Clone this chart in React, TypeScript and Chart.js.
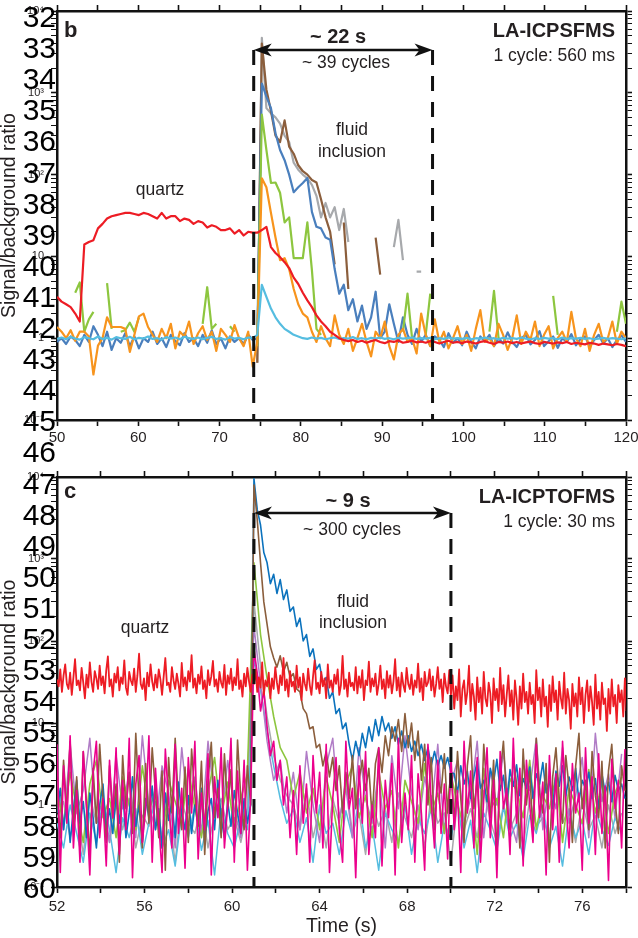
import React, { useEffect, useRef } from 'react';
import { Chart, registerables } from 'chart.js';

Chart.register(...registerables);

const FONT = '"Liberation Sans", Arial, Helvetica, sans-serif';
const INK = '#231f20';

// ---------------- Panel b : LA-ICPSFMS (one value per 0.56 s cycle, from 50 s) ----------------
const B_T0 = 50;
const B_CYCLE = 0.56;

const B_RED = [
  3.2, 2.8, 2.6, 2.4, 2.0, 1.6, 14, 15, 15.8, 22,
  25, 29, 31, 32, 33, 34, 34, 33, 32, 34,
  33, 31, 29, 34, 29, 31, 31, 27, 29, 28,
  25, 27, 26, 22.5, 24, 23, 21, 21, 22, 19,
  21, 18, 20, 19.5, 19.5, 21, 23, 13, 11, 9.8,
  8.5, 7.2, 5.5, 4.6, 3.6, 2.9, 2.4, 1.9, 1.6, 1.4,
  1.2, 1.1, 1.0, 0.95, 0.92, 0.95, 0.9, 0.93, 0.88, 0.92,
  0.95, 0.9, 0.87, 0.92, 0.9, 0.94, 0.88, 0.9, 0.93, 0.89,
  0.91, 0.88, 0.92, 0.9, 0.86, 0.9, 0.93, 0.88, 0.9, 0.87,
  0.91, 0.89, 0.86, 0.9, 0.92, 0.88, 0.85, 0.9, 0.88, 0.91,
  0.87, 0.9, 0.86, 0.89, 0.91, 0.87, 0.85, 0.9, 0.88, 0.86,
  0.89, 0.87, 0.9, 0.85, 0.88, 0.86, 0.84, 0.88, 0.86, 0.83,
  0.86, 0.84, 0.82, 0.85, 0.83, 0.8,
];

const B_CYAN = [
  0.98, 1.02, 0.97, 1.04, 0.99, 0.96, 1.03, 1.0, 0.97, 1.05,
  0.98, 1.01, 0.96, 1.03, 1.0, 0.98, 1.04, 0.97, 1.01, 0.99,
  1.05, 0.98, 1.0, 0.96, 1.03, 0.99, 1.02, 0.97, 1.04, 1.0,
  0.98, 1.02, 0.97, 1.01, 1.04, 0.98, 1.0, 0.96, 1.03, 0.99,
  1.01, 0.97, 1.02, 1.0,
  1.1, 4.5, 3.2, 2.3, 1.8, 1.5, 1.3, 1.2, 1.1, 1.05,
  1.0, 0.98, 1.02, 0.99, 1.01, 0.97, 1.0, 1.02, 0.98, 1.0,
  0.99, 1.03, 0.98, 1.0, 0.97, 1.01, 0.99, 1.02, 0.98, 1.0,
  0.97, 1.01, 0.99, 1.0, 1.02, 0.98, 1.0, 0.99, 1.01, 0.97,
  1.0, 0.98, 1.02, 0.99, 1.0, 0.98, 1.01, 0.97, 1.0, 0.99,
  1.02, 0.98, 1.0, 0.97, 1.01, 0.99, 1.0, 0.98, 1.02, 0.99,
  0.97, 1.0, 0.98, 1.01, 0.99, 1.0, 0.97, 1.02, 0.98, 1.0,
  0.99, 1.01, 0.98, 1.0, 0.97, 0.99, 1.01, 0.98, 1.0, 0.99,
  0.97, 1.0,
];

const B_BLUE = [
  0.9, 1.0, 0.85, 1.05, 0.95, 0.8, 1.1, 0.9, 1.4, 1.1,
  0.8, 1.2, 0.72, 1.0, 0.88, 1.15, 0.8, 1.05, 0.75, 1.0,
  0.9, 1.2, 0.85, 1.0, 0.78, 1.1, 0.92, 0.82, 1.15, 0.9,
  1.0, 0.8, 1.1, 0.88, 1.25, 0.85, 1.0, 0.75, 1.05, 0.9,
  1.0, 0.85, 1.1, 0.95,
  1.0, 1300, 900, 650, 320, 200, 150, 100, 61, 70,
  79, 91, 35, 23, 22, 17, 16, 7, 3.5, 4.5,
  2.2, 3.0, 1.6, 2.5, 1.3, 1.8, 3.7, 1.0, 1.2, 2.6,
  1.5, 0.9, 1.8, 1.1, 0.85, 1.3,
  0.9, 1.1, 0.8, 1.05, 0.95, 0.78, 1.15, 0.88, 1.0, 0.82,
  1.2, 0.9, 0.75, 1.05, 0.92, 1.1, 0.8, 1.0, 0.86, 1.18,
  0.9, 0.78, 1.0, 1.1, 0.84, 0.95, 1.22, 0.8, 0.92, 1.05,
  0.76, 1.0, 0.9, 1.12, 0.82, 0.98, 1.05, 0.8, 0.95, 1.1,
  0.86, 1.0, 0.78, 0.95, 1.08, 0.9,
];

const B_ORANGE = [
  1.37, 1.2, 1.0, 1.25, 0.93, 1.2, 1.2, 1.05, 0.36, 0.81,
  1.0, 1.8, 1.37, 1.37, 1.37, 1.3, 0.68, 1.1, 1.85, 2.0,
  1.37, 1.1, 0.9, 1.3, 1.0, 1.5, 0.75, 1.2, 1.05, 1.6,
  0.85, 1.15, 1.4, 0.95, 1.2, 0.7, 1.3, 1.1, 0.9, 1.45,
  1.0, 0.8, 1.2, 0.45,
  0.9, 90, 70, 34, 17, 9, 9.5, 7, 4, 2.6, 2.0, 1.8,
  1.2, 0.9, 1.4, 1.0, 0.8, 1.9, 1.1, 0.85, 1.3, 0.7,
  1.0, 1.5, 0.9, 0.6, 1.2, 1.0, 1.6, 0.8, 0.55, 1.1,
  1.3, 0.9, 1.0, 0.65, 2.0, 1.1, 0.8, 1.7, 0.9, 1.2,
  0.75, 1.0, 1.4, 0.85, 1.1, 0.7, 1.3, 2.2, 0.9, 1.0,
  0.8, 1.5, 1.1, 0.72, 1.0, 1.9, 0.85, 1.2, 0.95, 1.6,
  0.8, 1.1, 1.4, 0.75, 1.0, 1.2, 0.9, 2.1, 1.0, 0.8,
  1.3, 0.7, 1.1, 1.5, 0.9, 1.0, 1.6, 0.85, 1.2, 1.0,
];

const B_GREEN = [
  null, null, null, null, 3.6, 4.8, 1.2, 1.7, 2.1, null,
  null, 4.7, 1.3, null, 1.2, 1.25, 1.55, 1.2, 1.8, null,
  null, null, null, null, null, null, null, null, null, null,
  null, null, 1.5, 4.2, 1.3, 1.5, null, null, 1.4, 1.2,
  null, null, null, null, 0.8, 540, 200, 79, 80, 60,
  26, 30, 9.5, 9.5, 9.5, 26, 6.8, 1.3, 1.1, null,
  null, null, null, null, null, null, null, null, null, null,
  null, null, null, null, null, null, 1.2, 3.5, 1.0, null,
  null, 1.1, 3.5, null, null, null, null, null, null, null,
  null, null, null, null, null, 1.2, 3.8, 1.0, null, null,
  null, null, null, null, null, null, null, null, null, 3.3,
  1.1, null, null, null, null, null, null, null, null, null,
  null, null, null, 1.2, 2.8, 1.5,
];

const B_BROWN = [
  null, null, null, null, null, null, null, null, null, null,
  null, null, null, null, null, null, null, null, null, null,
  null, null, null, null, null, null, null, null, null, null,
  null, null, null, null, null, null, null, null, null, null,
  null, null, null, null, 0.5, 4000, 1100, 600, 300, 250,
  460, 220, 180, 130, 110, 100, 86, 80, 50, 30,
  20, 8, null, 26, 4, null, null, null, null, null,
  17, 6, null, null, null, null, null, null, null, null,
  null, null, null, null, null, null, null, null, null, null,
  null, null, null, null, null, null, null, null, null, null,
  null, null, null, null, null, null, null, null, null, null,
  null, null, null, null, null, null, null, null, null, null,
  null, null, null, null, null, null,
];

const B_GRAY = [
  null, null, null, null, null, null, null, null, null, null,
  null, null, null, null, null, null, null, null, null, null,
  null, null, null, null, null, null, null, null, null, null,
  null, null, null, null, null, null, null, null, null, null,
  null, null, null, null, 0.5, 4700, 650, 560, 500, 420,
  300, 250, 140, 115, 100, 90, 75, 55, 30, 45,
  30, 40, 21, 38, 15, null, null, null, null, null,
  null, null, null, null, 13, 28, 9, null, null, 6.5,
  6.5, null, null, null, null, null, null, null, null, null,
  null, null, null, null, null, null, null, null, null, null,
  null, null, null, null, null, null, null, null, null, null,
  null, null, null, null, null, null, null, null, null, null,
  null, null, null, null, null, null,
];

const B_X_MIN = 50;
const B_X_MAX = 120;
const B_X_STEP = 5;
const B_X_LABEL_EVERY = 10;
const B_WINDOW = [74.2, 96.2];

// ---------------- Panel c : LA-ICPTOFMS (values from 52 s) ----------------
const C_T0 = 52;
const C_RED_STEP = 0.075;
const C_FINE = 0.15;
const C_COARSE = 0.3;

const C_RED = [
  34, 28, 45, 24, 38, 52, 30, 26, 41, 22, 36, 60,
  29, 33, 25, 47, 31, 20, 39, 27, 55, 32, 24, 43,
  35, 26, 50, 29, 37, 23, 44, 65, 28, 34, 21, 40,
  31, 48, 25, 36, 30, 58, 27, 22, 42, 33, 29, 46,
  24, 38, 70, 30, 26, 35, 19, 41, 28, 52, 32, 25,
  39, 27, 45, 34, 22, 37, 62, 29, 31, 24, 48, 33,
  26, 40, 30, 21, 54, 28, 36, 25, 43, 32, 67, 27,
  35, 23, 39, 30, 49, 26, 33, 20, 44, 29, 37, 57,
  28, 34, 24, 42, 31, 27, 51, 22, 38, 30, 46, 25,
  36, 29, 60, 26, 33, 21, 40, 28, 47, 32, 24, 39,
  30, 45, 24, 36, 27, 55, 22, 33, 28, 41, 20, 35,
  26, 48, 31, 23, 38, 29, 62, 25, 34, 21, 43, 28,
  32, 24, 50, 27, 36, 19, 40, 30, 25, 46, 29, 22,
  37, 58, 26, 31, 23, 42, 28, 35, 20, 52, 27, 33,
  24, 39, 30, 45, 22, 29, 66, 26, 34, 21, 41, 28,
  31, 25, 48, 23, 37, 27, 44, 19, 33, 29, 56, 24,
  35, 28, 40, 22, 30, 50, 26, 34, 20, 43, 27, 38,
  23, 32, 60, 25, 36, 21, 41, 29, 24, 47, 30, 26,
  39, 22, 33, 27, 53, 24, 35, 19, 42, 28, 31, 45,
  25, 37, 21, 30, 48, 26, 34, 18, 40, 28, 23, 44,
  22, 38, 15, 28, 19, 45, 12, 26, 33, 17, 24, 50,
  14, 30, 21, 11, 36, 18, 27, 13, 42, 20, 16, 31,
  23, 10, 35, 19, 26, 14, 47, 17, 29, 12, 22, 38,
  16, 25, 11, 33, 20, 9.5, 28, 15, 40, 18, 24, 13,
  31, 17, 22, 10, 44, 19, 27, 12, 34, 16, 21, 9,
  29, 14, 37, 18, 25, 11, 32, 20, 15, 41, 13, 26,
  19, 8.5, 30, 16, 23, 12, 36, 17, 27, 10, 22, 33,
  14, 28, 18, 9.5, 39, 15, 24, 11, 31, 17, 20, 8,
  26, 13, 34, 16, 22, 10, 29, 18, 25, 12, 35, 14,
];

const C_BLUE = [
  0.8, 1.6, 0.5, 1.2, 0.35, 0.9, 2.0, 0.6, 1.1, 0.4, 1.4, 0.7, 0.3, 1.0, 1.8, 0.5, 0.9, 0.45, 1.3, 0.6,
  1.5, 0.4, 0.8, 2.2, 0.55, 1.0, 0.35, 1.2, 0.7, 1.7, 0.5, 0.9, 0.3, 1.4, 0.65, 1.1, 0.4, 1.9, 0.75, 0.5,
  1.3, 0.45, 1.0, 0.6, 1.6, 0.35, 0.85, 1.2, 0.5, 2.0, 0.7, 0.4, 1.1, 0.55, 1.5, 0.8, 0.45, 1.2, 0.6, 1.0,
  9500, 4000, 2600, 1200, 900, 500, 650, 380, 560, 320,
  420, 230, 260, 150, 190, 100, 120, 65, 80, 45,
  52, 30, 36, 20, 24, 13, 15, 8.5, 10, 5.5,
  3.5, 6, 4, 7.5, 5, 9, 6, 11, 7, 12,
  8, 10, 6.5, 9, 5.5, 8, 5, 7, 4.5, 6,
  4, 5.5, 3.5, 5, 3, 4.5, 3, 4, 2.8, 3.8,
  2.5,
  2.4, 1.4, 3.0, 1.8, 2.6, 1.2, 2.2, 3.4, 1.6, 2.0,
  1.1, 2.8, 1.9, 3.6, 1.5, 2.3, 1.0, 2.7, 1.7, 3.1,
  1.3, 2.1, 1.6, 2.9, 1.2, 2.4, 1.8, 3.3, 1.4, 2.0,
  0.9, 2.6, 1.7, 3.0, 1.3, 2.2, 1.5, 2.8, 1.1, 2.0,
  1.6, 2.5, 1.2, 2.1, 0.9, 2.4, 1.4, 1.9, 1.1, 2.3,
  1.5, 1.8, 1.2,
];

const C_BROWN = [
  1.5, 0.4, 3.5, 0.8, 6.0, 0.5, 2.2, 0.3, 4.5, 1.0, 0.25, 2.8, 0.6, 5.5, 1.2, 0.35, 3.0, 0.7, 1.8, 0.2,
  4.0, 0.9, 2.5, 0.45, 7.5, 1.1, 0.3, 3.2, 0.6, 5.0, 1.4, 0.4, 2.6, 0.16, 3.8, 0.8, 6.5, 1.0, 0.5, 2.9,
  0.35, 4.8, 1.3, 0.55, 3.4, 0.25, 2.0, 5.8, 0.7, 1.6, 0.4, 4.2, 0.9, 2.7, 0.3, 6.2, 1.2, 0.5, 3.0, 1.0,
  8000, 3000, 900, 300, 160, 85, 62, 48, 66, 42, 55, 36, 40, 26, 24, 15, 13, 8.5, 9, 5, 5.5, 3, 4.5,
  2.2, 3.8, 1.5, 3.0, 0.8, 2.5, 1.2, 4.0, 0.9, 2.0,
  3.5, 1.5, 2.8, 0.7, 3.2, 5.0, 2.5, 7.0, 4.0, 9.0,
  6.0, 11, 4.5, 13, 5.0, 10, 3.5, 8.0, 2.0, 5.5,
  1.0, 3.8, 0.5, 2.2, 1.4, 4.2, 0.8,
  2.8, 0.6, 4.5, 1.2, 0.35, 3.0, 7.0, 0.9, 2.0, 0.4,
  5.5, 1.5, 0.7, 3.5, 0.25, 2.4, 6.0, 1.1, 0.5, 3.8,
  1.8, 0.3, 4.8, 1.0, 2.6, 0.45, 6.5, 1.4, 0.8, 3.2,
  0.2, 2.2, 5.0, 1.2, 0.6, 4.0, 1.6, 0.35, 3.0, 7.5,
  0.9, 2.0, 0.5, 4.5, 1.3, 0.7, 3.4, 0.3, 2.6, 5.5,
  1.1, 0.45, 3.0, 1.5,
];

const C_PINK = [
  5.5, 0.15, 3.0, 0.6, 7.0, 0.3, 1.5, 0.2, 4.5, 0.9, 0.14, 2.5, 6.0, 0.4, 1.2, 0.18, 3.5, 0.7, 5.0, 0.25,
  2.0, 0.5, 6.5, 0.13, 1.8, 4.0, 0.35, 0.9, 7.0, 0.2, 2.8, 0.6, 0.15, 4.8, 1.1, 0.3, 5.5, 0.45, 1.6, 0.17,
  3.8, 0.8, 6.0, 0.22, 1.4, 0.5, 4.2, 0.14, 2.2, 0.7, 5.0, 0.3, 1.0, 6.5, 0.2, 2.6, 0.45, 3.5, 0.16, 1.3,
  80, 40, 14, 25, 9, 4, 6, 2, 3.5, 1.0, 2.2, 0.4, 1.5, 0.25, 3.0, 0.6, 1.8, 0.2, 4.0, 0.8,
  2.5, 0.3, 5.5, 0.15, 1.2, 3.8, 0.5, 0.2, 6.0, 0.9, 1.6, 0.13, 3.0, 0.6, 4.5, 0.25, 1.0, 0.4, 5.0, 0.18,
  2.0, 0.7, 3.2, 0.14, 6.5, 0.35, 1.4, 0.5, 4.0, 0.2, 2.4, 0.8, 0.16, 5.5, 1.1, 0.3, 3.5, 0.45, 1.8, 0.22,
  4.2, 0.5, 1.5, 0.15, 6.0, 0.8, 2.6, 0.3, 3.8, 0.2, 1.2, 5.0, 0.4, 2.0, 0.13, 4.5, 0.9, 1.6, 0.25, 6.5,
  0.6, 2.8, 0.18, 3.5, 1.0, 0.35, 5.5, 0.7, 1.9, 0.14, 4.0, 0.5, 2.4, 0.2, 6.0, 1.1, 0.3, 3.2, 0.8, 1.4,
  0.16, 5.0, 0.6, 2.2, 0.25, 4.2, 0.45, 1.7, 0.12, 3.6, 0.9, 2.0, 0.3, 4.8,
];

const C_GREEN = [
  1.5, 0.6, 2.5, 0.9, 0.35, 1.8, 3.5, 0.7, 1.2, 0.4,
  2.2, 1.0, 0.5, 3.0, 0.8, 1.6, 0.3, 2.0, 1.1, 0.6,
  2.8, 0.9, 0.4, 1.4, 3.8, 0.7, 1.9, 0.5, 1.2, 2.4,
  900, 120, 35, 12, 5, 3.5, 1.2, 2.5, 0.8, 1.6,
  0.5, 2.2, 1.0, 0.35, 1.8, 3.0, 0.7, 1.3, 0.4, 2.6,
  0.9, 1.5, 0.3, 2.0, 1.1, 0.6, 3.2, 0.8, 1.4, 0.45,
  2.4, 1.0, 0.55, 1.7, 0.25, 2.8, 0.9, 1.2, 0.4, 2.1,
  1.5, 0.7, 3.5, 0.5, 1.3, 0.9, 2.3, 0.35, 1.6, 1.0,
  0.6, 2.7, 0.8, 1.9, 0.45, 1.4, 2.2,
];

const C_CYAN = [
  0.6, 0.3, 1.0, 0.45, 0.2, 0.8, 0.35, 1.2, 0.5, 0.15,
  0.7, 0.4, 0.9, 0.25, 0.6, 1.1, 0.3, 0.5, 0.18, 0.8,
  0.4, 1.0, 0.28, 0.65, 0.14, 0.9, 0.45, 0.3, 0.7, 0.5,
  60, 25, 8, 3, 1.2, 0.6,
  0.9, 0.35, 0.7, 0.2, 1.0, 0.45, 0.6, 0.25, 0.85, 0.4,
  1.2, 0.3, 0.55, 0.16, 0.8, 0.5, 0.35, 1.0, 0.25, 0.7,
  0.45, 0.9, 0.2, 0.6, 0.38, 1.1, 0.3, 0.65, 0.15, 0.8,
  0.5, 0.28, 0.95, 0.4, 0.6, 0.22, 0.75, 0.45, 1.0, 0.3,
  0.55, 0.18, 0.85, 0.4, 0.65, 0.25, 0.9, 0.5, 0.32, 0.7,
  0.45,
];

const C_PURPLE = [
  2.0, 0.5, 5.5, 0.8, 1.5, 6.5, 0.6, 1.2, 0.35, 4.0,
  0.9, 2.5, 0.4, 7.0, 1.0, 0.5, 3.0, 1.4, 0.3, 5.0,
  0.8, 2.2, 0.45, 6.0, 1.1, 0.6, 3.5, 0.9, 0.4, 2.0,
  150, 30, 6, 2, 3.5, 0.8,
  2.5, 0.5, 4.5, 1.0, 0.35, 3.0, 6.5, 0.7, 1.6, 0.4,
  5.0, 1.2, 0.6, 2.8, 0.3, 4.0, 0.9, 7.0, 1.4, 0.5,
  2.2, 0.8, 5.5, 0.45, 1.8, 3.5, 0.6, 1.2, 6.0, 0.4,
  2.6, 1.0, 4.5, 0.7, 0.35, 3.2, 1.5, 6.5, 0.5, 2.0,
  0.9, 5.0, 0.6, 1.3, 3.8, 0.4, 7.5, 1.1, 2.4, 0.7,
  4.2,
];

const C_GRAY = [
  0.7, 1.1, 0.4, 0.9, 0.25, 1.3, 0.6, 0.8, 0.35, 1.0,
  0.5, 1.2, 0.3, 0.75, 0.55, 1.4, 0.4, 0.9, 0.2, 1.1,
  0.6, 0.45, 1.0, 0.3, 0.8, 1.2, 0.5, 0.7, 0.35, 0.9,
  300, 50, 12, 4, 2, 1.3,
  1.0, 0.5, 1.6, 0.4, 0.9, 0.3, 1.2, 0.6, 2.0, 0.45,
  0.8, 0.25, 1.1, 0.55, 0.9, 0.35, 1.4, 0.7, 0.4, 1.0,
  0.3, 1.3, 0.6, 0.8, 0.2, 1.1, 0.5, 0.9, 0.4, 1.5,
  0.65, 0.35, 1.0, 0.5, 0.8, 0.3, 1.2, 0.55, 0.7, 0.4,
  1.8, 0.6, 0.9, 0.35, 1.1, 0.5, 0.75, 0.3, 1.0, 0.45,
  0.8,
];

const C_X_MIN = 52;
const C_X_MAX = 78;
const C_X_STEP = 2;
const C_X_LABEL_EVERY = 4;
const C_WINDOW = [61, 70];

// ---------------- shared axis labels ----------------
const Y_MAJOR = [0.1, 1, 10, 100, 1000, 10000];
const Y_LABELS = ['10\u207B\u00B9', '1', '10', '10\u00B2', '10\u00B3', '10\u2074'];
const Y_MINOR_MULT = [2, 3, 4, 5, 6, 7, 8, 9];
const Y_TITLE = 'Signal/background ratio';
const X_TITLE = 'Time (s)';

// manuscript line numbers printed down the left margin
const LINE_NUMBERS = [
  32, 33, 34, 35, 36, 37, 38, 39, 40, 41, 42, 43, 44, 45, 46,
  47, 48, 49, 50, 51, 52, 53, 54, 55, 56, 57, 58, 59, 60,
];

const COL = {
  red: '#ed1c24',
  orange: '#f7941d',
  green: '#8dc63f',
  steel: '#4a7fbd',
  blue: '#0b72bd',
  brown: '#8b5e3c',
  gray: '#a7a9ac',
  cyan: '#55bde0',
  pink: '#ec008c',
  purple: '#b07cc6',
};

function yTickValues(): number[] {
  const out: number[] = [];
  Y_MAJOR.forEach((m, k) => {
    out.push(m);
    if (k < Y_MAJOR.length - 1) {
      Y_MINOR_MULT.forEach((f) => out.push(parseFloat((m * f).toPrecision(6))));
    }
  });
  return out;
}

function series(values: (number | null)[], t0: number, dt: number) {
  return values.map((v, i) => ({ x: parseFloat((t0 + i * dt).toFixed(4)), y: v }));
}

type TextItem = { text: string; x: number; dy: number; size: number; bold?: boolean; align: CanvasTextAlign };

function annotationPlugin(win: number[], arrowDy: number, texts: TextItem[]) {
  return {
    id: 'panelAnnotations',
    afterDatasetsDraw(chart: any) {
      const { ctx, chartArea, scales } = chart;
      const xs = scales.x;
      const xa = xs.getPixelForValue(win[0]);
      const xb = xs.getPixelForValue(win[1]);
      const ay = chartArea.top + arrowDy;
      ctx.save();
      ctx.strokeStyle = '#111';
      ctx.lineWidth = 3;
      ctx.setLineDash([15, 11]);
      [xa, xb].forEach((px: number) => {
        ctx.beginPath();
        ctx.moveTo(px, ay);
        ctx.lineTo(px, chartArea.bottom);
        ctx.stroke();
      });
      ctx.setLineDash([]);
      ctx.lineWidth = 2.5;
      ctx.beginPath();
      ctx.moveTo(xa + 10, ay);
      ctx.lineTo(xb - 10, ay);
      ctx.stroke();
      ctx.fillStyle = '#111';
      const head = (tip: number, dir: number) => {
        ctx.beginPath();
        ctx.moveTo(tip, ay);
        ctx.lineTo(tip + dir * 18, ay - 6.5);
        ctx.lineTo(tip + dir * 13, ay);
        ctx.lineTo(tip + dir * 18, ay + 6.5);
        ctx.closePath();
        ctx.fill();
      };
      head(xa, 1);
      head(xb, -1);
      ctx.fillStyle = INK;
      ctx.textBaseline = 'alphabetic';
      texts.forEach((t) => {
        ctx.font = `${t.bold ? 'bold ' : ''}${t.size}px ${FONT}`;
        ctx.textAlign = t.align;
        ctx.fillText(t.text, t.x, chartArea.top + t.dy);
      });
      ctx.restore();
    },
  };
}

function makeConfig(p: {
  datasets: any[];
  xMin: number;
  xMax: number;
  xStep: number;
  labelEvery: number;
  padTop: number;
  xAxisHeight: number;
  tickPad: number;
  showXTitle: boolean;
  plugin: any;
}) {
  const ticksY = yTickValues();
  const zeroPad = (s: any) => {
    s.paddingLeft = 0;
    s.paddingRight = 0;
    s.paddingTop = 0;
    s.paddingBottom = 0;
  };
  const border = { display: true, color: '#111', width: 2.5 };
  const grid = {
    drawOnChartArea: false,
    drawTicks: true,
    tickLength: 6,
    tickColor: '#111',
    tickWidth: (c: any) => (c.tick && c.tick.major === false ? 1 : 1.6),
  };
  const setYTicks = (s: any) => {
    s.ticks = ticksY.map((v) => ({ value: v, major: Y_MAJOR.indexOf(v) >= 0 }));
  };
  const xLabel = (v: any) => {
    const n = Number(v);
    const r = Math.abs((n - p.xMin) / p.labelEvery - Math.round((n - p.xMin) / p.labelEvery));
    return r < 1e-6 ? String(n) : '';
  };
  const yLabel = (v: any) => {
    const n = Number(v);
    const k = Y_MAJOR.findIndex((m) => Math.abs(m - n) / m < 1e-6);
    return k >= 0 ? Y_LABELS[k] : '';
  };
  return {
    type: 'line',
    data: { datasets: p.datasets },
    options: {
      responsive: false,
      maintainAspectRatio: false,
      animation: false,
      events: [],
      layout: { padding: { left: 0, right: 12, top: p.padTop, bottom: 0 } },
      plugins: { legend: { display: false }, tooltip: { enabled: false } },
      elements: { point: { radius: 0 }, line: { tension: 0 } },
      scales: {
        x: {
          type: 'linear',
          position: 'bottom',
          min: p.xMin,
          max: p.xMax,
          border,
          grid,
          ticks: {
            stepSize: p.xStep,
            autoSkip: false,
            maxRotation: 0,
            padding: p.tickPad,
            color: INK,
            font: { family: FONT, size: 15 },
            callback: xLabel,
          },
          title: {
            display: p.showXTitle,
            text: X_TITLE,
            color: INK,
            font: { family: FONT, size: 19.5, lineHeight: 1.2 },
            padding: { top: 0, bottom: 0 },
          },
          afterFit: (s: any) => {
            s.height = p.xAxisHeight;
            zeroPad(s);
          },
        },
        x2: {
          type: 'linear',
          position: 'top',
          min: p.xMin,
          max: p.xMax,
          border,
          grid,
          ticks: { display: false, stepSize: p.xStep, autoSkip: false },
          afterFit: (s: any) => {
            s.height = 0;
            zeroPad(s);
          },
        },
        y: {
          type: 'logarithmic',
          position: 'left',
          min: 0.1,
          max: 10000,
          border,
          grid,
          afterBuildTicks: setYTicks,
          ticks: {
            autoSkip: false,
            padding: 7,
            color: INK,
            font: { family: FONT, size: 11 },
            callback: yLabel,
          },
          title: {
            display: true,
            text: Y_TITLE,
            color: INK,
            font: { family: FONT, size: 19.5, lineHeight: 1 },
            padding: { top: 0, bottom: 0 },
          },
          afterFit: (s: any) => {
            s.width = 57;
            zeroPad(s);
          },
        },
        y2: {
          type: 'logarithmic',
          position: 'right',
          min: 0.1,
          max: 10000,
          border,
          grid,
          afterBuildTicks: setYTicks,
          ticks: { display: false, autoSkip: false },
          afterFit: (s: any) => {
            s.width = 0;
            zeroPad(s);
          },
        },
      },
    },
    plugins: [p.plugin],
  };
}

function ds(label: string, data: any[], color: string, width: number) {
  return {
    label,
    data,
    borderColor: color,
    backgroundColor: color,
    borderWidth: width,
    pointRadius: 0,
    pointHoverRadius: 0,
    fill: false,
    spanGaps: false,
    tension: 0,
    xAxisID: 'x',
    yAxisID: 'y',
    borderJoinStyle: 'round',
  };
}

function configB() {
  const w = 2.2;
  const datasets = [
    ds('red', series(B_RED, B_T0, B_CYCLE), COL.red, w),
    ds('cyan', series(B_CYAN, B_T0, B_CYCLE), COL.cyan, w),
    ds('orange', series(B_ORANGE, B_T0, B_CYCLE), COL.orange, w),
    ds('green', series(B_GREEN, B_T0, B_CYCLE), COL.green, w),
    ds('blue', series(B_BLUE, B_T0, B_CYCLE), COL.steel, w),
    ds('brown', series(B_BROWN, B_T0, B_CYCLE), COL.brown, w),
    ds('gray', series(B_GRAY, B_T0, B_CYCLE), COL.gray, w),
  ];
  const texts: TextItem[] = [
    { text: 'b', x: 64, dy: 26, size: 22, bold: true, align: 'left' },
    { text: '~ 22 s', x: 338, dy: 32, size: 20, bold: true, align: 'center' },
    { text: '~ 39 cycles', x: 346, dy: 57, size: 17.5, align: 'center' },
    { text: 'fluid', x: 352, dy: 124, size: 17.5, align: 'center' },
    { text: 'inclusion', x: 352, dy: 146, size: 17.5, align: 'center' },
    { text: 'quartz', x: 160, dy: 184, size: 17.5, align: 'center' },
    { text: 'LA-ICPSFMS', x: 615, dy: 26, size: 20, bold: true, align: 'right' },
    { text: '1 cycle: 560 ms', x: 615, dy: 50, size: 17.5, align: 'right' },
  ];
  return makeConfig({
    datasets,
    xMin: B_X_MIN,
    xMax: B_X_MAX,
    xStep: B_X_STEP,
    labelEvery: B_X_LABEL_EVERY,
    padTop: 11,
    xAxisHeight: 32,
    tickPad: 3,
    showXTitle: false,
    plugin: annotationPlugin(B_WINDOW, 39, texts),
  });
}

function configC() {
  const datasets = [
    ds('red', series(C_RED, C_T0, C_RED_STEP), COL.red, 1.8),
    ds('pink', series(C_PINK, C_T0, C_FINE), COL.pink, 1.6),
    ds('brown', series(C_BROWN, C_T0, C_FINE), COL.brown, 1.6),
    ds('blue', series(C_BLUE, C_T0, C_FINE), COL.blue, 1.6),
    ds('green', series(C_GREEN, C_T0, C_COARSE), COL.green, 1.6),
    ds('purple', series(C_PURPLE, C_T0, C_COARSE), COL.purple, 1.5),
    ds('cyan', series(C_CYAN, C_T0, C_COARSE), COL.cyan, 1.5),
    ds('gray', series(C_GRAY, C_T0, C_COARSE), COL.gray, 1.5),
  ];
  const texts: TextItem[] = [
    { text: 'c', x: 64, dy: 21, size: 22, bold: true, align: 'left' },
    { text: '~ 9 s', x: 348, dy: 30, size: 20, bold: true, align: 'center' },
    { text: '~ 300 cycles', x: 352, dy: 58, size: 17.5, align: 'center' },
    { text: 'fluid', x: 353, dy: 130, size: 17.5, align: 'center' },
    { text: 'inclusion', x: 353, dy: 151, size: 17.5, align: 'center' },
    { text: 'quartz', x: 145, dy: 156, size: 17.5, align: 'center' },
    { text: 'LA-ICPTOFMS', x: 615, dy: 26, size: 20, bold: true, align: 'right' },
    { text: '1 cycle: 30 ms', x: 615, dy: 50, size: 17.5, align: 'right' },
  ];
  return makeConfig({
    datasets,
    xMin: C_X_MIN,
    xMax: C_X_MAX,
    xStep: C_X_STEP,
    labelEvery: C_X_LABEL_EVERY,
    padTop: 25,
    xAxisHeight: 51,
    tickPad: 5,
    showXTitle: true,
    plugin: annotationPlugin(C_WINDOW, 36, texts),
  });
}

function Panel({ top, height, make }: { top: number; height: number; make: () => any }) {
  const ref = useRef<HTMLCanvasElement | null>(null);
  useEffect(() => {
    if (!ref.current) return;
    const chart = new Chart(ref.current, make());
    return () => chart.destroy();
  }, []);
  return (
    <canvas
      ref={ref}
      width={638}
      height={height}
      style={{ position: 'absolute', left: 0, top, width: 638, height, display: 'block' }}
    />
  );
}

export default function App() {
  return (
    <div
      style={{
        position: 'absolute',
        left: 0,
        top: 0,
        width: 638,
        height: 938,
        background: '#fff',
        overflow: 'hidden',
      }}
    >
      <Panel top={0} height={452} make={configB} />
      <Panel top={452} height={486} make={configC} />
      {LINE_NUMBERS.map((n, i) => (
        <div
          key={n}
          style={{
            position: 'absolute',
            right: 638 - 56,
            top: 17 + i * 31.1 - 15,
            fontFamily: FONT,
            fontSize: 30,
            lineHeight: '30px',
            color: '#000',
            whiteSpace: 'nowrap',
          }}
        >
          {n}
        </div>
      ))}
    </div>
  );
}
